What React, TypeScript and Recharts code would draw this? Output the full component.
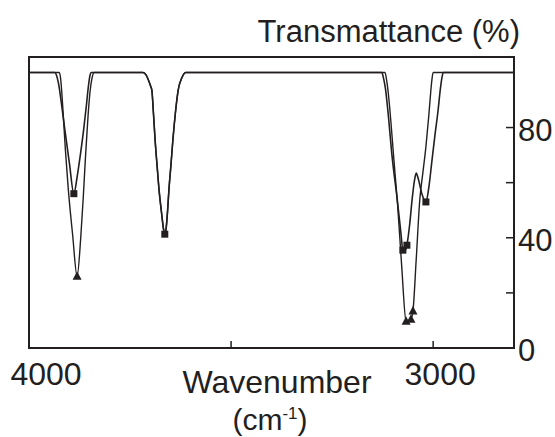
import { ComposedChart, Line, Scatter, XAxis, YAxis, ReferenceArea } from 'recharts';

// IR spectra, transmittance vs wavenumber (x axis reversed)
const wnTicks = [4000, 3500, 3000];
const wnLabels = [4000, 3000];
const tTicks = [0, 20, 40, 60, 80];
const tLabels = [0, 40, 80];

// trace marked with squares
const squareTrace = [
  { wn: 4000, t: 100 }, { wn: 3936, t: 100 }, { wn: 3932, t: 99 }, { wn: 3927, t: 96 },
  { wn: 3920, t: 89 }, { wn: 3912, t: 80 }, { wn: 3900, t: 67 }, { wn: 3889, t: 56 },
  { wn: 3881, t: 62 }, { wn: 3873, t: 70 }, { wn: 3865, t: 79 }, { wn: 3858, t: 88 },
  { wn: 3853, t: 95 }, { wn: 3849, t: 99 }, { wn: 3846, t: 100 },
  { wn: 3718, t: 100 }, { wn: 3710, t: 99 }, { wn: 3704, t: 97 }, { wn: 3699, t: 95 },
  { wn: 3696, t: 93.5 }, { wn: 3692, t: 85 }, { wn: 3688, t: 75.5 }, { wn: 3683, t: 66 },
  { wn: 3678, t: 57 }, { wn: 3672, t: 49 }, { wn: 3667, t: 43 }, { wn: 3664, t: 41.3 },
  { wn: 3661, t: 43 }, { wn: 3657, t: 50 }, { wn: 3654, t: 57 }, { wn: 3649, t: 66 },
  { wn: 3644, t: 75.5 }, { wn: 3638, t: 85 }, { wn: 3631, t: 93.5 }, { wn: 3622, t: 98 },
  { wn: 3612, t: 100 },
  { wn: 3127, t: 100 }, { wn: 3123, t: 98 }, { wn: 3118, t: 94 }, { wn: 3112, t: 86 },
  { wn: 3102, t: 70 }, { wn: 3089, t: 54 }, { wn: 3080, t: 42 }, { wn: 3075, t: 35.5 },
  { wn: 3070, t: 35 }, { wn: 3065, t: 37.3 }, { wn: 3058, t: 45 }, { wn: 3052, t: 54 },
  { wn: 3046, t: 61 }, { wn: 3042, t: 63.5 }, { wn: 3037, t: 61.5 }, { wn: 3028, t: 56 },
  { wn: 3018, t: 53 }, { wn: 3011, t: 58 }, { wn: 3003, t: 68 }, { wn: 2995, t: 78 },
  { wn: 2988, t: 86 }, { wn: 2983, t: 93 }, { wn: 2979, t: 97.5 }, { wn: 2975, t: 100 },
  { wn: 2800, t: 100 },
];

// trace marked with triangles
const triangleTrace = [
  { wn: 4000, t: 100 }, { wn: 3925, t: 100 }, { wn: 3922, t: 98 }, { wn: 3919, t: 93 },
  { wn: 3915, t: 84 }, { wn: 3910, t: 72 }, { wn: 3903, t: 58 }, { wn: 3892, t: 41 },
  { wn: 3881, t: 26 }, { wn: 3872, t: 40 }, { wn: 3866, t: 54 }, { wn: 3860, t: 70 },
  { wn: 3854, t: 84 }, { wn: 3849, t: 93 }, { wn: 3844, t: 98 }, { wn: 3839, t: 100 },
  { wn: 3718, t: 100 }, { wn: 3710, t: 99 }, { wn: 3704, t: 97 }, { wn: 3699, t: 95 },
  { wn: 3696, t: 93.5 }, { wn: 3692, t: 85 }, { wn: 3688, t: 75.5 }, { wn: 3683, t: 66 },
  { wn: 3678, t: 57 }, { wn: 3672, t: 49 }, { wn: 3667, t: 43 }, { wn: 3664, t: 41.3 },
  { wn: 3661, t: 43 }, { wn: 3657, t: 50 }, { wn: 3654, t: 57 }, { wn: 3649, t: 66 },
  { wn: 3644, t: 75.5 }, { wn: 3638, t: 85 }, { wn: 3631, t: 93.5 }, { wn: 3622, t: 98 },
  { wn: 3612, t: 100 },
  { wn: 3119, t: 100 }, { wn: 3115, t: 97 }, { wn: 3110, t: 91 }, { wn: 3104, t: 81 },
  { wn: 3097, t: 68 }, { wn: 3088, t: 52 }, { wn: 3078, t: 30 }, { wn: 3067, t: 9.7 },
  { wn: 3060, t: 9.5 }, { wn: 3055, t: 10.4 }, { wn: 3050, t: 13.4 }, { wn: 3042, t: 32 },
  { wn: 3033, t: 54 }, { wn: 3026, t: 63 }, { wn: 3018, t: 73 }, { wn: 3011, t: 84 },
  { wn: 3006, t: 93 }, { wn: 3003, t: 97.5 }, { wn: 3000, t: 100 }, { wn: 2800, t: 100 },
];

const squareMarks = [
  { wn: 3889, t: 56 }, { wn: 3664, t: 41.3 }, { wn: 3075, t: 35.5 },
  { wn: 3065, t: 37.3 }, { wn: 3018, t: 53 },
];

const triangleMarks = [
  { wn: 3881, t: 26 }, { wn: 3067, t: 9.7 }, { wn: 3055, t: 10.4 }, { wn: 3050, t: 13.4 },
];

const W = 555;
const H = 437;
const Y_MAX = 105.6;
const INK = '#231f20';
const FONT = '"Liberation Sans", Arial, sans-serif';

function XTick(props: any) {
  const { x, y, payload } = props;
  const v = payload.value;
  return (
    <g>
      {v !== 4000 && <line x1={x} x2={x} y1={y} y2={y - 7} stroke={INK} strokeWidth={1.5} />}
      {wnLabels.includes(v) && (
        <text x={x + (v === 4000 ? 17 : 7)} y={y + 37} textAnchor="middle" fontSize={32} fill={INK} fontFamily={FONT}>
          {v}
        </text>
      )}
    </g>
  );
}

function YTick(props: any) {
  const { x, y, payload } = props;
  const v = payload.value;
  return (
    <g>
      {v !== 0 && <line x1={x - 8} x2={x} y1={y} y2={y} stroke={INK} strokeWidth={1.5} />}
      {tLabels.includes(v) && (
        <text x={x + 4} y={y + 13} textAnchor="start" fontSize={31} fill={INK} fontFamily={FONT}>
          {v}
        </text>
      )}
    </g>
  );
}

const SquareMark = (p: any) => <rect x={p.cx - 3.5} y={p.cy - 3.5} width={7} height={7} fill={INK} />;
const TriMark = (p: any) => (
  <polygon points={`${p.cx},${p.cy - 5} ${p.cx + 4.5},${p.cy + 3.5} ${p.cx - 4.5},${p.cy + 3.5}`} fill={INK} />
);

export default function App() {
  return (
    <div style={{ position: 'absolute', left: 0, top: 0, width: W, height: H, background: '#fff' }}>
      <ComposedChart width={W} height={H} margin={{ top: 57, right: 0, left: 29, bottom: 59 }}>
        <XAxis
          type="number"
          dataKey="wn"
          domain={[2800, 4000]}
          reversed
          allowDataOverflow
          ticks={wnTicks}
          interval={0}
          tickSize={0}
          tickMargin={0}
          axisLine={false}
          tickLine={false}
          tick={<XTick />}
          height={30}
        />
        <YAxis
          type="number"
          dataKey="t"
          orientation="right"
          domain={[0, Y_MAX]}
          allowDataOverflow
          ticks={tTicks}
          interval={0}
          tickSize={0}
          tickMargin={0}
          axisLine={false}
          tickLine={false}
          tick={<YTick />}
          width={41}
        />
        <ReferenceArea x1={4000} x2={2800} y1={0} y2={Y_MAX} fill="none" stroke={INK} strokeWidth={2} ifOverflow="visible" />
        <Line data={squareTrace} dataKey="t" type="monotone" stroke={INK} strokeWidth={1.6} dot={false} isAnimationActive={false} />
        <Line data={triangleTrace} dataKey="t" type="monotone" stroke={INK} strokeWidth={1.4} dot={false} isAnimationActive={false} />
        <Scatter data={squareMarks} dataKey="t" shape={SquareMark} isAnimationActive={false} />
        <Scatter data={triangleMarks} dataKey="t" shape={TriMark} isAnimationActive={false} />
      </ComposedChart>
      <svg width={W} height={H} style={{ position: 'absolute', left: 0, top: 0, pointerEvents: 'none' }}>
        <text x={520} y={42} textAnchor="end" fontSize={31} fill={INK} fontFamily={FONT}>
          Transmattance (%)
        </text>
        <text x={277} y={393} textAnchor="middle" fontSize={32} fill={INK} fontFamily={FONT}>
          Wavenumber
        </text>
        <text x={270} y={430} textAnchor="middle" fontSize={30} fill={INK} fontFamily={FONT}>
          (cm<tspan fontSize={17} dy={-11}>-1</tspan><tspan dy={11}>)</tspan>
        </text>
      </svg>
    </div>
  );
}
